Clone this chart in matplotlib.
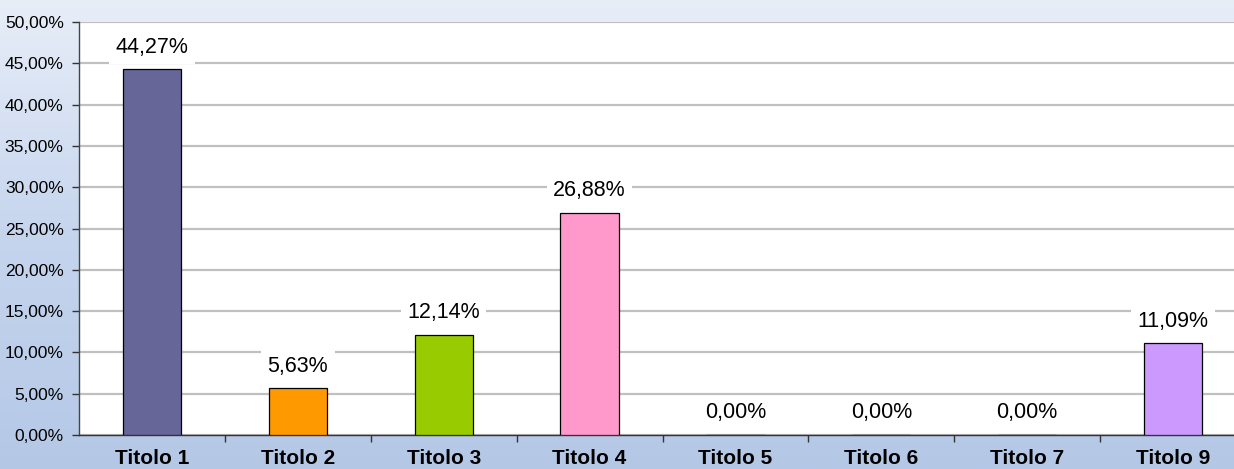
import matplotlib.pyplot as plt
import matplotlib.colors as mcolors
import numpy as np

plt.rcParams['font.family'] = ['Liberation Sans', 'DejaVu Sans']

# categories and values (percent)
categories = ["Titolo 1", "Titolo 2", "Titolo 3", "Titolo 4", "Titolo 5",
              "Titolo 6", "Titolo 7", "Titolo 9"]
values = [44.27, 5.63, 12.14, 26.88, 0.00, 0.00, 0.00, 11.09]
colors = ["#666699", "#FF9900", "#99CC00", "#FF99CC", "#9999FF",
          "#9999FF", "#9999FF", "#CC99FF"]
yticks = np.arange(0, 50.01, 5)

fig = plt.figure(figsize=(12.34, 4.69), dpi=100)

# background gradient behind everything
bg = fig.add_axes([0, 0, 1, 1], zorder=-10)
cmap = mcolors.LinearSegmentedColormap.from_list("bg", ["#b4c8e6", "#c6d5ee", "#e8eef8"])
grad = np.linspace(0, 1, 256).reshape(-1, 1)
bg.imshow(grad, aspect="auto", cmap=cmap, origin="lower", extent=[0, 1, 0, 1])
bg.axis("off")

# plot area runs past the right edge of the image, like the original
ax = fig.add_axes([79 / 1234, 34 / 469, (1246 - 79) / 1234, 413 / 469])
ax.set_facecolor("white")

x = np.arange(len(categories))
ax.bar(x, values, width=0.40, color=colors, edgecolor="black", linewidth=0.9, zorder=3)

for xi, v in zip(x, values):
    ax.annotate(f"{v:.2f}%".replace(".", ","), (xi, v), xytext=(0, 16),
                textcoords="offset points", ha="center", va="center", fontsize=15.5,
                bbox=dict(boxstyle="square,pad=0.3", fc="white", ec="none"), zorder=4)

ax.set_xlim(-0.5, len(categories) - 0.5)
ax.set_ylim(0, 50)
ax.set_yticks(yticks)
ax.set_yticklabels([f"{t:.2f}%".replace(".", ",") for t in yticks], fontsize=12.5)
ax.yaxis.grid(True, color="#c0c0c0", linewidth=1.6, zorder=0)
ax.set_axisbelow(True)

# category boundaries as major ticks, names on minor ticks
ax.set_xticks(np.arange(0.5, len(categories) - 0.5, 1))
ax.set_xticklabels([])
ax.set_xticks(x, minor=True)
ax.set_xticklabels(categories, minor=True, fontsize=15, fontweight="bold")
ax.tick_params(axis="x", which="major", length=5, width=1, color="#333333", direction="out")
ax.tick_params(axis="x", which="minor", length=0, pad=10)
ax.tick_params(axis="y", length=5, width=1, color="#333333", pad=6)

for s in ["top", "right"]:
    ax.spines[s].set_visible(False)
ax.spines["left"].set_color("#444444")
ax.spines["bottom"].set_color("#333333")
ax.spines["left"].set_linewidth(1)
ax.spines["bottom"].set_linewidth(1)

fig.savefig("out.png", dpi=100)
